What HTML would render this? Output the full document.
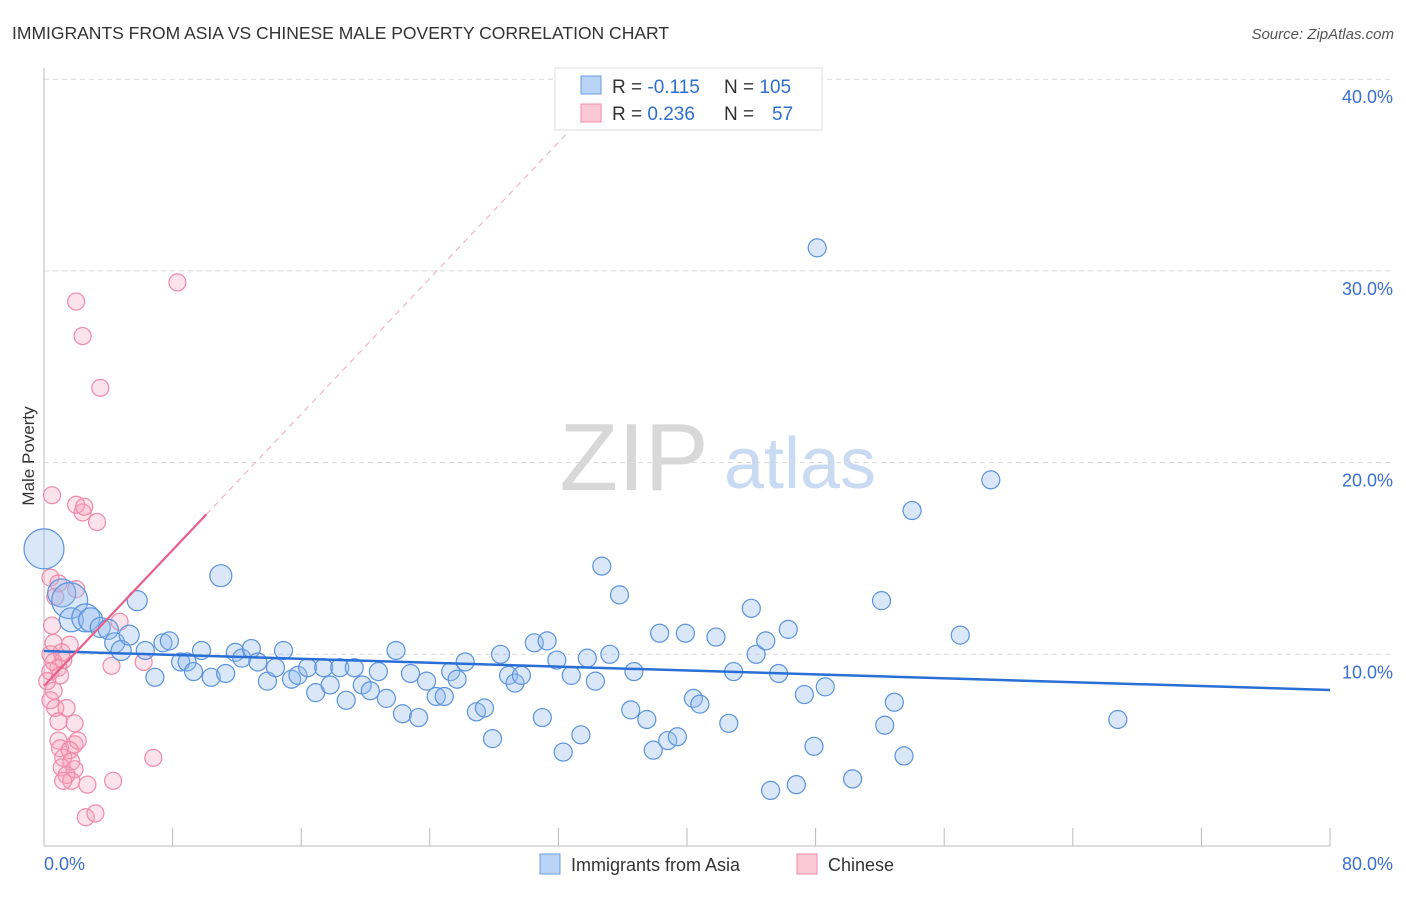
<!DOCTYPE html>
<html><head><meta charset="utf-8"><style>
body{margin:0;background:#fff;font-family:"Liberation Sans",sans-serif;}
svg text{font-family:"Liberation Sans",sans-serif;}
</style></head><body>
<svg id="chart" width="1406" height="892">
<text x="12" y="39" font-size="17.5" fill="#333">IMMIGRANTS FROM ASIA VS CHINESE MALE POVERTY CORRELATION CHART</text>
<text x="1394" y="39" font-size="15" fill="#555" font-style="italic" text-anchor="end">Source: ZipAtlas.com</text>
<g>
<text x="634" y="490" font-size="96" fill="#d8d8d8" font-family="Liberation Serif" text-anchor="middle">ZIP</text>
<text x="800" y="488" font-size="72" fill="#c9daf3" text-anchor="middle">atlas</text>
</g>
<g id="grid"></g>
<g id="axes"></g>
<g id="pts"></g>
<g id="lines"></g>
<text transform="translate(34,456) rotate(-90)" font-size="17" fill="#333" text-anchor="middle">Male Poverty</text>
<g>
<rect x="555" y="68" width="267" height="62" fill="#fff" stroke="#ddd"/>
<rect x="581" y="76" width="20" height="18" fill="#b8d3f5" stroke="#6a9ee0"/>
<rect x="581" y="104" width="20" height="18" fill="#fcc8d6" stroke="#f08aa8"/>
<text x="612" y="93" font-size="19" fill="#333">R = <tspan fill="#2f6fd0">-0.115</tspan></text>
<text x="724" y="93" font-size="19" fill="#333">N = <tspan fill="#2f6fd0">105</tspan></text>
<text x="612" y="120" font-size="19" fill="#333">R = <tspan fill="#2f6fd0"> 0.236</tspan></text>
<text x="724" y="120" font-size="19" fill="#333">N =</text>
<text x="772" y="120" font-size="19" fill="#2f6fd0">57</text>
</g>
<g>
<rect x="540" y="854" width="20" height="20" fill="#b8d3f5" stroke="#6a9ee0"/>
<text x="571" y="871" font-size="18" fill="#333">Immigrants from Asia</text>
<rect x="797" y="854" width="20" height="20" fill="#fcc8d6" stroke="#f08aa8"/>
<text x="828" y="871" font-size="18" fill="#333">Chinese</text>
</g>
</svg>
<script>
const blueX=[0,1.1,1.6,1.7,2.6,2.9,3.5,4.0,4.4,4.8,5.3,5.8,6.3,6.9,7.4,7.8,8.5,8.9,9.3,9.8,10.4,11.0,11.3,11.9,12.3,12.9,13.3,13.9,14.4,14.9,15.4,15.8,16.4,16.9,17.4,17.8,18.4,18.8,19.3,19.8,20.3,20.8,21.3,21.9,22.3,22.8,23.3,23.8,24.4,24.9,25.3,25.7,26.2,26.9,27.4,27.9,28.4,28.9,29.3,29.7,30.5,31.0,31.3,31.9,32.3,32.8,33.4,33.8,34.3,34.7,35.2,35.8,36.5,36.7,37.5,37.9,38.3,38.8,39.4,39.9,40.4,40.8,41.8,42.6,42.9,44.0,44.3,44.9,45.2,45.7,46.3,46.8,47.3,47.9,48.1,48.6,50.3,52.1,52.3,52.9,53.5,54.0,57.0,58.9,66.8];
const blueY=[15.5,13.2,12.8,11.8,11.9,11.8,11.4,11.3,10.6,10.2,11.0,12.8,10.2,8.8,10.6,10.7,9.6,9.6,9.1,10.2,8.8,14.1,9.0,10.1,9.8,10.3,9.6,8.6,9.3,10.2,8.7,8.9,9.3,8.0,9.3,8.4,9.3,7.6,9.3,8.4,8.1,9.1,7.7,10.2,6.9,9.0,6.7,8.6,7.8,7.8,9.1,8.7,9.6,7.0,7.2,5.6,10.0,8.9,8.5,8.9,10.6,6.7,10.7,9.7,4.9,8.9,5.8,9.8,8.6,14.6,10.0,13.1,7.1,9.1,6.6,5.0,11.1,5.5,5.7,11.1,7.7,7.4,10.9,6.4,9.1,12.4,10.0,10.7,2.9,9.0,11.3,3.2,7.9,5.2,31.2,8.3,3.5,12.8,6.3,7.5,4.7,17.5,11.0,19.1,6.6];
const blueR=[20,14,18,12,14,12,10,10,10,10,10,10,9,9,9,9,9,9,9,9,9,11];
const pinkX=[0.5,2.0,2.4,3.5,8.3,2.0,2.4,2.5,3.3,0.4,0.9,2.0,0.7,4.7,0.5,0.6,1.6,0.4,1.1,0.6,1.2,0.9,0.4,1.0,0.2,0.6,6.2,4.2,0.4,0.7,1.4,0.9,1.9,0.9,1.9,2.1,1.0,1.6,1.2,1.7,1.1,1.9,1.4,1.7,2.7,4.3,6.8,2.6,3.2,1.2];
const pinkY=[18.3,28.4,26.6,23.9,29.4,17.8,17.4,17.7,16.9,14.0,13.7,13.4,13.0,11.7,11.5,10.6,10.5,10.0,10.1,9.6,9.7,9.3,9.1,8.9,8.6,8.1,9.6,9.4,7.6,7.2,7.2,6.5,6.4,5.5,5.3,5.5,5.1,5.0,4.6,4.4,4.1,4.0,3.7,3.4,3.2,3.4,4.6,1.5,1.7,3.4];
const blueFit=[10.17,8.14];
const pinkFit=[8.35,0.886];
const yTicks=[10,20,30,40];
const xTickVals=[0,8,16,24,32,40,48,56,64,72,80];
const NS="http://www.w3.org/2000/svg";
const X=v=>44+v*16.075, Y=v=>846-v*19.17;
function mk(t,a,p){const e=document.createElementNS(NS,t);for(const k in a)e.setAttribute(k,a[k]);p.appendChild(e);return e;}
const grid=document.getElementById('grid'),axes=document.getElementById('axes'),pts=document.getElementById('pts'),lines=document.getElementById('lines');
yTicks.forEach(v=>{
 const l=mk('line',{x1:44,x2:1394,y1:Y(v),y2:Y(v),stroke:'#d9d9d9','stroke-dasharray':'5,4'},grid);
 
 
 const t=mk('text',{x:1393,y:Y(v)+24,'font-size':18,fill:'#3a6fd0','text-anchor':'end'},grid);
 t.textContent=v.toFixed(1)+'%';
 
 
});
mk('line',{x1:44,x2:44,y1:68,y2:846,stroke:'#bbb'},axes);
mk('line',{x1:44,x2:1330,y1:846,y2:846,stroke:'#bbb'},axes);
xTickVals.forEach(v=>{
 const l=mk('line',{x1:X(v),x2:X(v),y1:828,y2:846,stroke:'#bbb'},axes);
 
 
});
let t1=mk('text',{x:44,y:870,'font-size':18,fill:'#3a6fd0'},axes);t1.textContent='0.0%';


let t2=mk('text',{x:1393,y:870,'font-size':18,fill:'#3a6fd0','text-anchor':'end'},axes);t2.textContent='80.0%';


pinkX.forEach((v,i)=>{
 const c=mk('circle',{cx:X(v),cy:Y(pinkY[i]),r:8.5,fill:'rgba(244,160,185,0.3)',stroke:'#f08aa8','stroke-width':1.2},pts);
 
 
});
blueX.forEach((v,i)=>{
 const c=mk('circle',{cx:X(v),cy:Y(blueY[i]),r:blueR[i]||9,fill:'rgba(147,187,237,0.35)',stroke:'#5b93dd','stroke-width':1.2},pts);
 
 
});
const bl=mk('line',{x1:X(0),y1:Y(blueFit[0]),x2:X(80),y2:Y(blueFit[1]),stroke:'#2a6fd6','stroke-width':2.5},lines);


const pl=mk('line',{x1:X(0),y1:Y(pinkFit[0]),x2:X(10.1),y2:Y(pinkFit[0]+pinkFit[1]*10.1),stroke:'#e8608a','stroke-width':2.2},lines);


const pd=mk('line',{x1:X(10.1),y1:Y(pinkFit[0]+pinkFit[1]*10.1),x2:X(32.5),y2:Y(pinkFit[0]+pinkFit[1]*32.5),stroke:'#f0a8be','stroke-width':1,'stroke-dasharray':'6,5'},lines);


</script>
</body></html>
